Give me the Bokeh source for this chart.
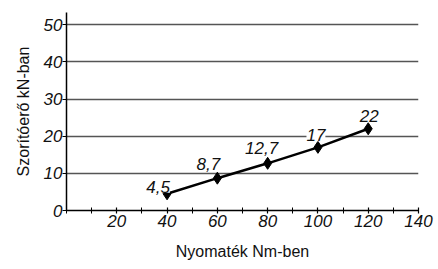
from bokeh.plotting import figure
from bokeh.models import ColumnDataSource, FixedTicker, LabelSet, Title, Range1d
from bokeh.core.properties import value
from bokeh.embed import file_html
from bokeh.resources import INLINE

# data
torque = [40, 60, 80, 100, 120]
force = [4.5, 8.7, 12.7, 17, 22]
point_labels = ["4,5", "8,7", "12,7", "17", "22"]
x_ticks = [20, 40, 60, 80, 100, 120, 140]
x_minor = [0, 10, 30, 50, 70, 90, 110, 130]
y_ticks = [0, 10, 20, 30, 40, 50]
x_title = "Nyomaték Nm-ben"
y_title = "Szorítóerő kN-ban"

FONT = "Liberation Sans"

p = figure(width=438, height=269, output_backend="svg", toolbar_location=None,
           x_range=Range1d(0, 140), y_range=Range1d(0, 53.3),
           min_border_left=66, min_border_right=20, min_border_top=12, min_border_bottom=59)
p.outline_line_color = None
p.background_fill_color = "white"
p.border_fill_color = "white"

# axes
p.xaxis.ticker = FixedTicker(ticks=x_ticks, minor_ticks=x_minor)
p.yaxis.ticker = FixedTicker(ticks=y_ticks)
for ax in (p.xaxis, p.yaxis):
    ax.axis_line_color = "black"
    ax.axis_line_width = 1.5
    ax.major_tick_line_color = "black"
    ax.major_tick_line_width = 1.2
    ax.major_label_text_font = FONT
    ax.major_label_text_font_style = "italic"
    ax.major_label_text_font_size = "17px"
    ax.major_label_text_color = "#111111"
    ax.axis_label_text_font = FONT
    ax.axis_label_text_font_style = "normal"
    ax.axis_label_text_font_size = "16px"
    ax.axis_label_text_color = "#111111"

p.xaxis.major_tick_in = 3
p.xaxis.major_tick_out = 3
p.xaxis.minor_tick_in = 3
p.xaxis.minor_tick_out = 3
p.xaxis.minor_tick_line_color = "black"
p.xaxis.minor_tick_line_width = 1
p.xaxis.major_label_standoff = 1
p.xaxis.axis_label = x_title
p.xaxis.axis_label_standoff = 13

p.yaxis.major_tick_in = 0
p.yaxis.major_tick_out = 4
p.yaxis.minor_tick_line_color = None
p.yaxis.major_label_standoff = 0

# grid
p.xgrid.grid_line_color = None
p.ygrid.ticker = FixedTicker(ticks=[t for t in y_ticks if t > 0])
p.ygrid.grid_line_color = "#555555"
p.ygrid.grid_line_width = 1.3

# series
p.line(torque, force, line_color="black", line_width=2.5)
p.scatter(torque, force, marker="diamond", size=12, color="black")

# point labels
dx = [-9, -9, -6, -2, 1]
dy = [1, 8, 9, 6, 7]
src = ColumnDataSource(dict(x=torque, y=force, t=point_labels, dx=dx, dy=dy))
p.add_layout(LabelSet(x="x", y="y", text="t", source=src, x_offset="dx", y_offset="dy",
                      text_align="center", text_baseline="alphabetic",
                      text_font=value(FONT), text_font_style="italic",
                      text_font_size="17px", text_color="#111111",
                      background_fill_color="white"))

# y title
p.add_layout(Title(text=y_title, align="center", offset=17, standoff=18,
                   text_font=FONT, text_font_size="16px", text_font_style="normal",
                   text_color="#111111"), "left")

open("out.html", "w").write(file_html(p, INLINE))
